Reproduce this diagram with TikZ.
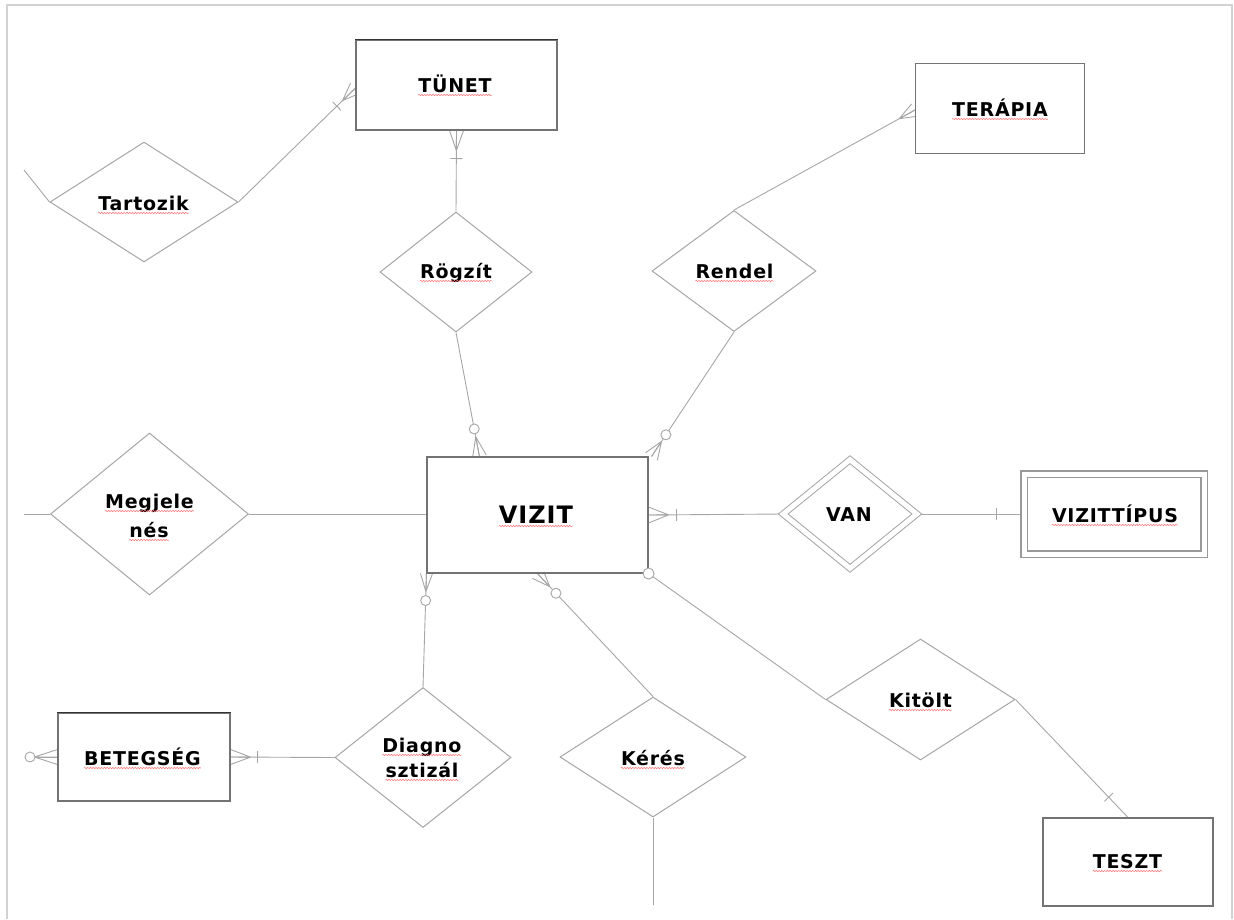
\documentclass[tikz,border=0pt]{standalone}
\usepackage{fontspec}
\newfontfamily\lblfont{DejaVu Sans}[LetterSpace=4]
\usetikzlibrary{shapes.geometric,calc,decorations.pathmorphing,backgrounds}

% crow's foot: #1 point on the entity, #2 point the line runs to, #3 length, #4 half spread
\newcommand\crowft[4]{%
  \coordinate (cfa) at ($(#1)!#3!(#2)$);
  \draw[conn] (cfa) -- (#1)
    (cfa) -- ($(#1)!#4!90:(#2)$)
    (cfa) -- ($(#1)!#4!-90:(#2)$);
}
% "one" bar across the line at distance #3 from #1
\newcommand\tickmk[3]{%
  \coordinate (tka) at ($(#1)!#3!(#2)$);
  \draw[conn] ($(tka)!6pt!90:(#2)$) -- ($(tka)!6pt!-90:(#2)$);
}
% "zero" ring on the line at distance #3 from #1
\newcommand\erring[3]{%
  \coordinate (rga) at ($(#1)!#3!(#2)$);
  \draw[conn, fill=white] (rga) circle[radius=5pt];
}

\begin{document}
\begin{tikzpicture}[x=1pt,y=-1pt,
  conn/.style={draw=gray!70, line width=0.9pt},
  ent/.style={rectangle, draw=gray!90!black, line width=1.1pt, fill=white, inner sep=0pt},
  rel/.style={diamond, draw=gray!70, line width=1pt, fill=white, inner sep=0pt},
  dbl/.style={double=white, double distance=5pt, line join=miter},
  topedge/.style={draw=gray!40!black, line width=1.6pt},
  lbl/.style={inner sep=0pt, anchor=base, font=\lblfont\bfseries\fontsize{19}{23}\selectfont},
  spell/.style={draw=red!55, line width=0.5pt, decorate,
    decoration={snake, amplitude=0.7pt, segment length=2.8pt}},
]
\useasboundingbox (0,0) rectangle (1234,919);

% page edges
\draw[gray!35, line width=1.5pt] (7,919) -- (7,5) -- (1232,5) -- (1232,919);

% entities
\node[ent, minimum width=201pt, minimum height=90pt] (tunet) at (456.5,85) {};
\node[ent, minimum width=169pt, minimum height=90pt] (terapia) at (1000,108.5) {};
\node[ent, minimum width=221pt, minimum height=116pt] (vizit) at (537.5,515) {};
\node[ent, dbl, draw=gray!80, minimum width=180pt, minimum height=80pt] (vtip) at (1114,514) {};
\node[ent, minimum width=172pt, minimum height=88pt] (betegseg) at (144,757) {};
\node[ent, minimum width=170pt, minimum height=88pt] (teszt) at (1128,862) {};
\draw[topedge] (tunet.north west) -- (tunet.north east);
\draw[topedge] (betegseg.north west) -- (betegseg.north east);

% relationships
\node[rel, minimum width=188pt, minimum height=120pt] (tartozik) at (144,202) {};
\node[rel, minimum width=152pt, minimum height=120pt] (rogzit) at (456,272) {};
\node[rel, minimum width=164pt, minimum height=121pt] (rendel) at (734,271) {};
\node[rel, minimum width=198pt, minimum height=162pt] (megj) at (149.5,514) {};
\node[rel, dbl, minimum width=134pt, minimum height=109pt] (van) at (850,514) {};
\node[rel, minimum width=176pt, minimum height=140pt] (diag) at (423,757.5) {};
\node[rel, minimum width=186pt, minimum height=120pt] (keres) at (653,757) {};
\node[rel, minimum width=189pt, minimum height=121pt] (kitolt) at (920.5,699.5) {};

% attachment points and loose ends
\coordinate (tunW) at ($(tunet.west)+(0,3)$);
\coordinate (terW) at ($(terapia.west)+(0,1.5)$);
\coordinate (vzN) at ($(vizit.north west)+(53,0)$);
\coordinate (vzNE) at ($(vizit.north east)+(3,0)$);
\coordinate (vzS) at ($(vizit.south west)+(111,0)$);
\coordinate (tfree) at (24,170);
\coordinate (mfree) at (24,514);
\coordinate (kfree) at (653,905);
\coordinate (bfree) at (30,757);

\begin{scope}[on background layer]
  % Tartozik
  \draw[conn] (tartozik.west) -- (tfree);
  \draw[conn] (tartozik.east) -- (tunW);
  \crowft{tunW}{tartozik.east}{18pt}{7pt}
  \tickmk{tunW}{tartozik.east}{26pt}
  % Rögzít
  \draw[conn] (tunet.south) -- (rogzit.north);
  \crowft{tunet.south}{rogzit.north}{20pt}{7pt}
  \tickmk{tunet.south}{rogzit.north}{28pt}
  \draw[conn] (rogzit.south) -- (vzN);
  \crowft{vzN}{rogzit.south}{20pt}{7pt}
  \erring{vzN}{rogzit.south}{28pt}
  % Rendel
  \draw[conn] (rendel.north) -- (terW);
  \crowft{terW}{rendel.north}{18pt}{7pt}
  \draw[conn] (rendel.south) -- (vzNE);
  \crowft{vzNE}{rendel.south}{18pt}{7pt}
  \erring{vzNE}{rendel.south}{26pt}
  % Megjelenés
  \draw[conn] (megj.west) -- (mfree);
  \draw[conn] (megj.east) -- (vizit.west |- megj.east);
  % VAN
  \draw[conn] (vizit.east) -- (van.west);
  \crowft{vizit.east}{van.west}{20pt}{8pt}
  \tickmk{vizit.east}{van.west}{28pt}
  \draw[conn] (van.east) -- (vtip.west);
  \tickmk{vtip.west}{van.east}{27pt}
  % Kitölt
  \draw[conn] (vizit.south east) -- (kitolt.west);
  \draw[conn] (kitolt.east) -- (teszt.north);
  \tickmk{teszt.north}{kitolt.east}{28pt}
  % Kérés
  \draw[conn] (keres.north) -- (vzS);
  \crowft{vzS}{keres.north}{18pt}{7pt}
  \erring{vzS}{keres.north}{27pt}
  \draw[conn] (keres.south) -- (kfree);
  % Diagnosztizál
  \draw[conn] (diag.north) -- (vizit.south west);
  \crowft{vizit.south west}{diag.north}{18pt}{6pt}
  \erring{vizit.south west}{diag.north}{27pt}
  \draw[conn] (diag.west) -- (betegseg.east);
  \crowft{betegseg.east}{diag.west}{20pt}{7.5pt}
  \tickmk{betegseg.east}{diag.west}{27pt}
  \draw[conn] (betegseg.west) -- (bfree);
  \crowft{betegseg.west}{bfree}{23pt}{7.5pt}
\end{scope}
\draw[conn, fill=white] (bfree) circle[radius=5pt];
\draw[conn, fill=white] (vizit.south east) circle[radius=5.5pt];

% labels
\node[lbl] (ltunet) at (455,92) {TÜNET};
\node[lbl] (lterapia) at (1000,116) {TERÁPIA};
\node[lbl] (ltartozik) at (143.5,210) {Tartozik};
\node[lbl] (lrogzit) at (456,278) {Rögzít};
\node[lbl] (lrendel) at (734.5,278) {Rendel};
\node[lbl, font=\lblfont\bfseries\fontsize{24}{28}\selectfont] (lvizit) at (536,523) {VIZIT};
\node[lbl] (lvan) at (849,521) {VAN};
\node[lbl] (lvtip) at (1115,522) {VIZITTÍPUS};
\node[lbl] (lmeg1) at (149.5,508) {Megjele};
\node[lbl] (lmeg2) at (149,537) {nés};
\node[lbl] (ldiag1) at (422,752) {Diagno};
\node[lbl] (ldiag2) at (422,777) {sztizál};
\node[lbl] (lbeteg) at (142.5,765) {BETEGSÉG};
\node[lbl] (lkeres) at (653,765) {Kérés};
\node[lbl] (lkitolt) at (920.5,707) {Kitölt};
\node[lbl] (lteszt) at (1127.5,868) {TESZT};

% spell-check squiggles under the words
\foreach \w in {ltunet,lterapia,ltartozik,lrogzit,lrendel,lvizit,lvtip,lmeg1,lmeg2,
                ldiag1,ldiag2,lbeteg,lkeres,lkitolt,lteszt}
  \draw[spell] ($(\w.base west)+(0,3)$) -- ($(\w.base east)+(0,3)$);
\end{tikzpicture}
\end{document}
